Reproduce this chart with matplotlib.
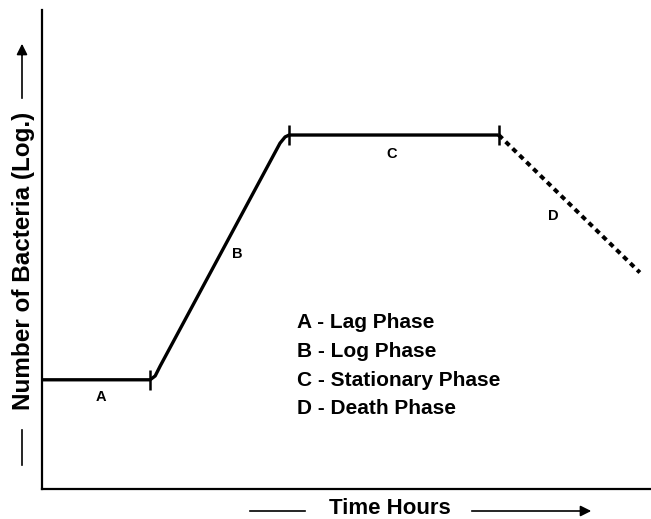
import numpy as np
import matplotlib.pyplot as plt

plt.rcParams['font.family'] = ['Liberation Sans', 'DejaVu Sans']
plt.rcParams['font.weight'] = 'bold'

# growth curve (time in hours, log of bacteria count)
growth_t = [0.0, 2.13, 2.23, 2.33, 4.69, 4.79, 4.87, 9.0]
growth_y = [2.28, 2.28, 2.36, 2.57, 7.22, 7.35, 7.39, 7.39]
death_t = [9.0, 11.78]
death_y = [7.39, 4.52]
phase_marks_t = [2.13, 4.87, 9.0]
phase_marks_y = [2.28, 7.39, 7.39]

letters = ['A', 'B', 'C', 'D']
letter_t = [1.16, 3.85, 6.9, 10.07]
letter_y = [1.93, 4.9, 7.0, 5.7]
legend_lines = ['A - Lag Phase', 'B - Log Phase', 'C - Stationary Phase', 'D - Death Phase']

W, H = 651, 519
fig = plt.figure(figsize=(W / 100, H / 100), dpi=100)
ax = fig.add_axes([42 / W, (H - 489) / H, (W - 42) / W, (489 - 10) / H])

def px(x, y):
    return (x / W, 1 - y / H)

# Plot curve
ax.plot(growth_t, growth_y, color='black', lw=2.4, solid_capstyle='butt')
ax.plot(death_t, death_y, color='black', lw=2.9, linestyle=(0, (1.3, 1.1)))
ax.plot(phase_marks_t, phase_marks_y, linestyle='none', marker='|',
        markersize=15, markeredgewidth=1.8, color='black')

for s, tx, ty in zip(letters, letter_t, letter_y):
    ax.text(tx, ty, s, ha='center', va='center', fontsize=10.5, fontweight='bold')

for i, s in enumerate(legend_lines):
    fig.text(*px(297, 323 + i * 28.5), s, ha='left', va='center',
             fontsize=15, fontweight='bold')

ax.set_xlim(0, 12)
ax.set_ylim(0, 10)
ax.set_xticks([])
ax.set_yticks([])
ax.spines['top'].set_visible(False)
ax.spines['right'].set_visible(False)
ax.spines['left'].set_linewidth(1.6)
ax.spines['bottom'].set_linewidth(1.6)

# Axis titles with arrows
fig.text(*px(390, 514), 'Time Hours', ha='center', va='baseline',
         fontsize=16, fontweight='bold')
fig.add_artist(plt.Line2D([250 / W, 305 / W], [1 - 511 / H] * 2, color='black', lw=1.2))
fig.add_artist(plt.Line2D([472 / W, 585 / W], [1 - 511 / H] * 2, color='black', lw=1.2))
ax.annotate('', xy=px(594, 511), xytext=px(580, 511), xycoords='figure fraction',
            textcoords='figure fraction',
            arrowprops=dict(arrowstyle='-|>', color='black', lw=1.2, mutation_scale=16))

fig.text(*px(24, 261), 'Number of Bacteria (Log.)', ha='center', va='center',
         rotation=90, fontsize=17.5, fontweight='bold')
fig.add_artist(plt.Line2D([22 / W] * 2, [1 - 430 / H, 1 - 465 / H], color='black', lw=1.2))
fig.add_artist(plt.Line2D([22 / W] * 2, [1 - 98 / H, 1 - 55 / H], color='black', lw=1.2))
ax.annotate('', xy=px(22, 41), xytext=px(22, 58), xycoords='figure fraction',
            textcoords='figure fraction',
            arrowprops=dict(arrowstyle='-|>', color='black', lw=1.2, mutation_scale=16))

fig.savefig('out.png', dpi=100)
